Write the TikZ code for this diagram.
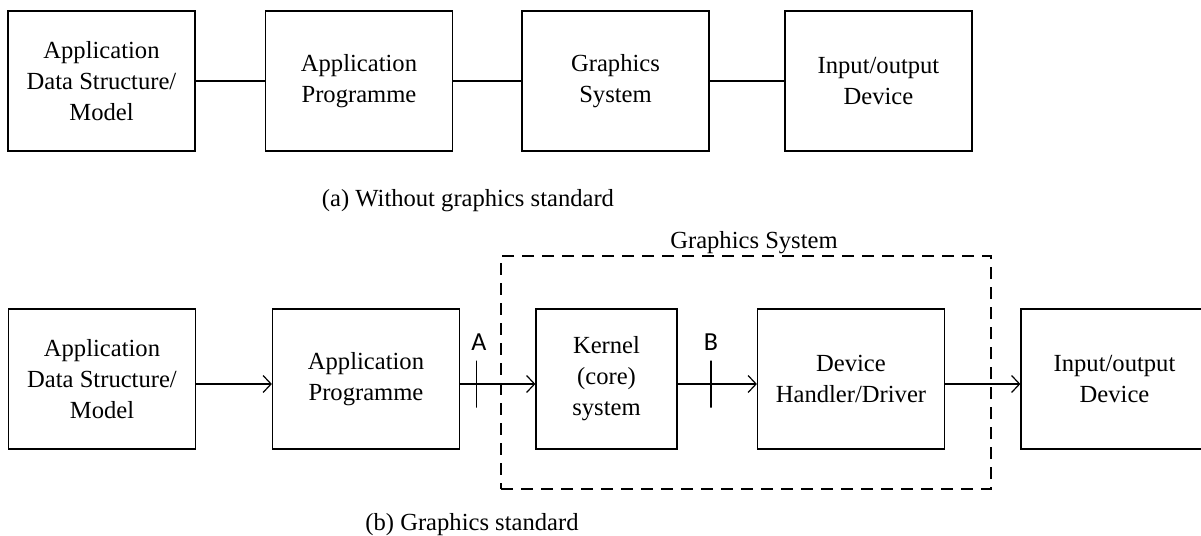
\documentclass[tikz,border=0pt]{standalone}
\usepackage{fontspec}
\setmainfont{Liberation Serif}
\newfontfamily\markfont{Carlito}
\usetikzlibrary{arrows.meta}

\begin{document}
\begin{tikzpicture}[
  x=0.5pt,
  y=-0.5pt,
  font=\fontsize{12.3}{15.5}\selectfont,
  block/.style={
    draw=black,
    line width=0.6pt,
    minimum width=93.5pt,
    minimum height=70pt,
    inner sep=0pt,
    align=center
  },
  topblock/.style={
    block,
    line width=0.8pt
  },
  link/.style={
    draw=black,
    line width=0.8pt
  },
  flow/.style={
    draw=black,
    line width=0.6pt,
    -{Straight Barb[length=4pt,width=8.5pt]}
  },
  sysframe/.style={
    draw=black,
    line width=0.6pt,
    dash pattern=on 6pt off 4pt,
    minimum width=245pt,
    minimum height=116.5pt,
    inner sep=0pt
  },
  crossmark/.style={
    draw=black,
    line width=0.6pt,
    minimum width=0pt,
    minimum height=23.5pt,
    inner sep=0pt
  },
  marklabel/.style={
    font=\markfont\fontsize{13}{15}\selectfont,
    inner sep=0pt
  },
  caption/.style={
    anchor=base,
    inner sep=0pt
  }
]

\useasboundingbox (0,0) rectangle (1201,536);

% (a) without graphics standard
\node[topblock] (amodel) at (101.5,81) {Application\\Data Structure/\\Model};
\node[topblock] (aprog) at (359,81) {Application\\Programme};
\node[topblock] (agsys) at (615.5,81) {Graphics\\System};
\node[topblock] (aio) at (878.5,81) {Input/output\\Device};

\draw[link] (amodel) -- (aprog);
\draw[link] (aprog) -- (agsys);
\draw[link] (agsys) -- (aio);

\node[caption] (acap) at (468,206) {(a) Without graphics standard};

% (b) graphics standard
\node[sysframe] (gsys) at (746,372.5) {};
\node[caption] (gsyslabel) at (754,248) {Graphics System};

\node[block] (bmodel) at (102,379) {Application\\Data Structure/\\Model};
\node[block] (bprog) at (366,379) {Application\\Programme};
\node[block, minimum width=70.5pt] (kernel) at (606.5,379) {Kernel\\(core)\\system};
\node[block] (driver) at (851,379) {Device\\Handler/Driver};
\node[block] (bio) at (1114.5,379) {Input/output\\Device};

\draw[flow] ([yshift=-2.5pt]bmodel.east) -- ([yshift=-2.5pt]bprog.west);
\draw[flow] ([yshift=-2.5pt]bprog.east) -- ([yshift=-2.5pt]kernel.west) coordinate[pos=0.22] (ifa);
\draw[flow] ([yshift=-2.5pt]kernel.east) -- ([yshift=-2.5pt]driver.west) coordinate[pos=0.42] (ifb);
\draw[flow] ([yshift=-2.5pt]driver.east) -- ([yshift=-2.5pt]bio.west);

\node[crossmark] (ticka) at (ifa) {};
\node[crossmark] (tickb) at (ifb) {};
\node[marklabel] (laba) at (479,342) {A};
\node[marklabel] (labb) at (711,342) {B};

\node[caption] (bcap) at (472,530) {(b) Graphics standard};

\end{tikzpicture}
\end{document}
